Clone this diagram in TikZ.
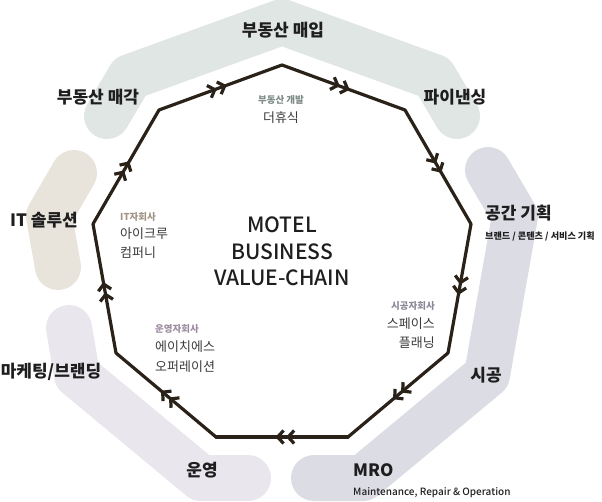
\documentclass[tikz,border=0pt]{standalone}
\usepackage{fontspec}
\setmainfont{Noto Sans CJK KR}
\newfontfamily\krmed{Noto Sans CJK KR Medium}
\usetikzlibrary{arrows.meta,decorations.markings}
\definecolor{bandA}{HTML}{E0E6E3}
\definecolor{bandB}{HTML}{DCDCE5}
\definecolor{bandC}{HTML}{EAE6EE}
\definecolor{bandD}{HTML}{E8E4DC}
\definecolor{ink}{HTML}{2A2118}
\definecolor{headc}{HTML}{1E1E1E}
\definecolor{compc}{HTML}{3A3A3A}
\definecolor{subA}{HTML}{7D8A86}
\definecolor{subD}{HTML}{A09484}
\definecolor{subB}{HTML}{8C8898}
\definecolor{subC}{HTML}{9C8CA0}
\begin{document}
\begin{tikzpicture}[x=1pt,y=-1pt,
  band/.style={line width=46pt,line cap=round,line join=round},
  vedge/.style={draw=ink,line width=3.2pt,line cap=round,
     postaction={decorate},decoration={markings,
       mark=at position 0.47 with {\arrow{Straight Barb[length=6pt,width=13pt]}},
       mark=at position 0.55 with {\arrow{Straight Barb[length=6pt,width=13pt]}}}},
  head/.style={font=\bfseries\fontsize{17}{19}\selectfont,text=headc,inner sep=0},
  small/.style={font=\bfseries\fontsize{9.1}{11}\selectfont,text=headc,inner sep=0},
  sub/.style={font=\bfseries\fontsize{9.5}{11}\selectfont,inner sep=0},
  comp/.style={font=\fontsize{13}{15}\selectfont,text=compc,inner sep=0},
  title/.style={font=\krmed\fontsize{21}{23}\selectfont,text=headc,inner sep=0}]
\useasboundingbox (0,0) rectangle (602,502);
% background bands
\draw[band,bandA] (107,116) -- (130,77) -- (282,22) -- (434,77) -- (457,116);
\draw[band,bandB] (488,170) -- (515,216) -- (487,375) -- (363,478) -- (314,478);
\draw[band,bandC] (69,328) -- (77,375) -- (201,478) -- (248,478);
\draw[band,bandD] (74,173) -- (49,216) -- (58,267);
% value chain polygon
\coordinate (v1) at (282,65);
\coordinate (v2) at (405,110);
\coordinate (v3) at (471,224);
\coordinate (v4) at (448,353);
\coordinate (v5) at (348,437);
\coordinate (v6) at (216,437);
\coordinate (v7) at (116,353);
\coordinate (v8) at (93,224);
\coordinate (v9) at (159,110);
\draw[vedge] (v1) -- (v2);
\draw[vedge] (v2) -- (v3);
\draw[vedge] (v3) -- (v4);
\draw[vedge] (v4) -- (v5);
\draw[vedge] (v5) -- (v6);
\draw[vedge] (v6) -- (v7);
\draw[vedge] (v7) -- (v8);
\draw[vedge] (v8) -- (v9);
\draw[vedge] (v9) -- (v1);
% stage labels
\node[head] (buy) at (283,30) {부동산 매입};
\node[head] (sell) at (98,97) {부동산 매각};
\node[head] (fin) at (455,97) {파이낸싱};
\node[head,anchor=west] (plan) at (485,213) {공간 기획};
\node[small,anchor=west] (plansub) at (485,236) {브랜드 / 콘텐츠 / 서비스 기획};
\node[head] (it) at (44,220) {IT 솔루션};
\node[head] (mkt) at (51,372) {마케팅/브랜딩};
\node[head] (ops) at (202,470) {운영};
\node[head] (con) at (486,375) {시공};
\node[head,anchor=west] (mro) at (353,470) {MRO};
\node[small,font=\krmed\fontsize{10}{12}\selectfont,anchor=west] (mrosub) at (353,493) {Maintenance, Repair \& Operation};
% companies
\node[sub,text=subA] (devsub) at (281,100) {부동산 개발};
\node[comp] (dev) at (281,118) {더휴식};
\node[sub,text=subD,anchor=west] (itsub) at (120,217) {IT자회사};
\node[comp,anchor=west] (itc1) at (120,234) {아이크루};
\node[comp,anchor=west] (itc2) at (120,253) {컴퍼니};
\node[sub,text=subB,anchor=east] (consub) at (435,306) {시공자회사};
\node[comp,anchor=east] (conc1) at (435,324) {스페이스};
\node[comp,anchor=east] (conc2) at (435,343) {플래닝};
\node[sub,text=subC,anchor=west] (opssub) at (155,329) {운영자회사};
\node[comp,anchor=west] (opsc1) at (155,347) {에이치에스};
\node[comp,anchor=west] (opsc2) at (155,367) {오퍼레이션};
% title
\node[title] (t1) at (282,225) {MOTEL};
\node[title] (t2) at (282,252) {BUSINESS};
\node[title] (t3) at (282,278) {VALUE-CHAIN};
\end{tikzpicture}
\end{document}
